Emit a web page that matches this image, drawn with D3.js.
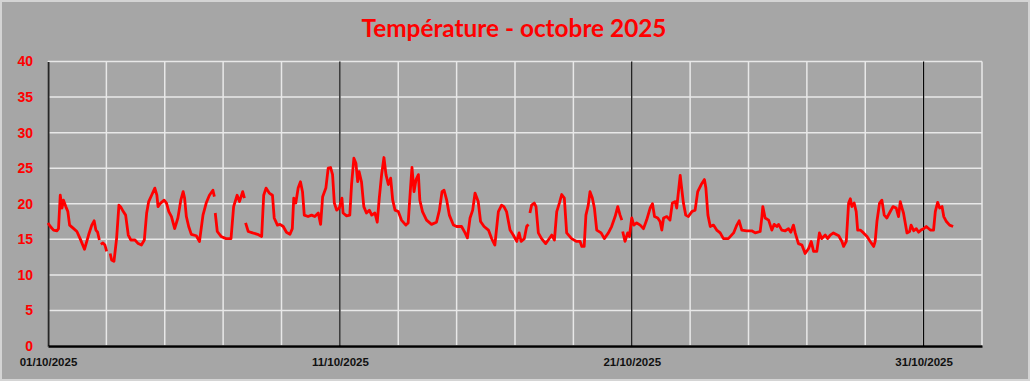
<!DOCTYPE html>
<html>
<head>
<meta charset="utf-8">
<script src="https://cdn.jsdelivr.net/npm/d3@7"></script>
<style>
  body { margin: 0; background: #a6a6a6; }
  svg { display: block; }
</style>
</head>
<body>
<script>
var width = 1030,
    height = 381;

// jours depuis le 01/10/2025 00:00 (null = trou dans les mesures)
var jours = [
  0.00, 0.08, 0.19, 0.31, 0.36, 0.42, 0.48, 0.53, 0.61, 0.68, 0.74, 0.88, 0.99, 1.10, 1.25, 1.39,
  1.50, 1.58, 1.64, 1.70, 1.76, 1.78, 1.81, 1.88, 1.95, 2.01, 2.07, 2.13, 2.18, 2.26, 2.35, 2.43,
  2.50, 2.58, 2.66, 2.75, 2.84, 2.98, 3.09, 3.20, 3.30, 3.38, 3.45, 3.55, 3.66, 3.73, 3.77, 3.86,
  3.98, 4.06, 4.14, 4.23, 4.34, 4.45, 4.55, 4.63, 4.68, 4.74, 4.82, 4.91, 5.08, 5.19, 5.31, 5.42,
  5.53, 5.65, 5.70, 5.71, 5.73, 5.80, 5.93, 6.10, 6.27, 6.36, 6.48, 6.56, 6.67, 6.73, 6.75, 6.77,
  6.86, 7.01, 7.18, 7.32, 7.39, 7.47, 7.58, 7.69, 7.75, 7.86, 7.95,
  8.06, 8.17, 8.29, 8.37, 8.42, 8.49, 8.57, 8.65, 8.72, 8.78, 8.91, 9.03, 9.14, 9.26, 9.34, 9.41,
  9.52, 9.60, 9.68, 9.75, 9.81, 9.89, 9.98, 10.07, 10.11, 10.23, 10.34, 10.40, 10.48, 10.55, 10.61, 10.66,
  10.74, 10.82, 10.91, 11.01, 11.09, 11.20, 11.28, 11.35, 11.43, 11.51, 11.58, 11.66, 11.74, 11.81, 11.89, 12.00,
  12.11, 12.26, 12.34, 12.42, 12.47, 12.54, 12.61, 12.69, 12.74, 12.83, 12.97, 13.14, 13.31, 13.41, 13.50, 13.57,
  13.66, 13.75, 13.89, 14.00, 14.17, 14.29, 14.37, 14.46, 14.55, 14.63, 14.74, 14.82, 14.94, 15.09, 15.20, 15.31,
  15.43, 15.54, 15.62, 15.71, 15.83, 15.94, 16.06,
  16.14, 16.21, 16.32, 16.40, 16.46, 16.48, 16.51, 16.57, 16.66, 16.72, 16.80, 16.91, 17.05, 17.14, 17.26, 17.35,
  17.43, 17.52, 17.60, 17.69, 17.77, 17.94, 18.11, 18.23, 18.29, 18.37, 18.43, 18.51, 18.57, 18.65, 18.72, 18.80,
  18.95, 19.06, 19.20, 19.31, 19.43, 19.52, 19.60, 19.66, 19.67, 19.69, 19.77, 19.86, 19.92, 20.00, 20.07, 20.17,
  20.29, 20.40, 20.51, 20.63, 20.71, 20.78, 20.89, 20.97, 21.03, 21.09, 21.20, 21.31, 21.39, 21.49, 21.54, 21.60,
  21.66, 21.71, 21.77, 21.85, 21.94, 22.06, 22.17, 22.26, 22.38, 22.49, 22.54, 22.61, 22.69, 22.80, 22.91, 23.03,
  23.14, 23.31, 23.49, 23.60, 23.68, 23.77, 23.94, 24.11, 24.23,
  24.40, 24.46, 24.49, 24.57, 24.69, 24.80, 24.88, 24.97, 25.03, 25.14, 25.26, 25.37, 25.45, 25.54, 25.60, 25.71,
  25.83, 25.94, 26.06, 26.15, 26.23, 26.34, 26.43, 26.51, 26.63, 26.71, 26.80, 26.91, 27.09, 27.20, 27.26, 27.35,
  27.43, 27.49, 27.54, 27.62, 27.69, 27.74, 27.83, 27.94, 28.06, 28.17, 28.29, 28.34, 28.40, 28.49, 28.57, 28.65,
  28.74, 28.83, 28.95, 29.06, 29.14, 29.20, 29.26, 29.31, 29.37, 29.43, 29.52, 29.57, 29.66, 29.75, 29.83, 29.91,
  30.00, 30.09, 30.23, 30.34, 30.40, 30.48, 30.55, 30.63, 30.69, 30.78, 30.89, 31.01
];

var temperatures = [
  17.3, 16.8, 16.3, 16.2, 16.5, 21.2, 19.4, 20.5, 19.6, 18.9, 17.0, 16.5, 16.1, 15.1, 13.6, 15.6,
  17.0, 17.6, 16.3, 16.0, 14.9, null, 14.3, 14.5, 14.2, 13.3, null, 13.0, 12.1, 11.9, 15.1, 19.8,
  19.5, 18.9, 18.4, 15.6, 14.9, 14.9, 14.4, 14.2, 14.9, 18.7, 20.3, 21.2, 22.2, 21.2, 19.6, 20.1,
  20.5, 20.1, 18.9, 18.2, 16.5, 18.0, 20.5, 21.7, 20.8, 18.2, 16.8, 15.7, 15.5, 14.7, 18.4, 20.1,
  21.2, 21.9, 21.0, null, 18.7, 16.1, 15.4, 15.1, 15.1, 19.6, 21.2, 20.3, 21.7, 20.8, null, 17.3,
  16.1, 15.9, 15.7, 15.4, 21.2, 22.2, 21.5, 21.2, 18.0, 17.0, 17.1,
  16.8, 16.0, 15.7, 16.5, 20.8, 20.1, 22.2, 23.1, 21.7, 18.4, 18.2, 18.4, 18.2, 18.7, 17.1, 21.0,
  22.2, 25.0, 25.1, 24.1, 20.1, 19.1, 19.4, 20.8, 18.7, 18.3, 18.4, 22.7, 26.4, 25.7, 23.1, 24.5,
  23.1, 19.6, 18.7, 19.1, 18.4, 18.7, 17.4, 20.8, 24.1, 26.5, 24.1, 22.7, 23.6, 20.5, 19.1, 18.9,
  17.7, 17.0, 17.3, 22.2, 25.1, 21.7, 23.4, 24.1, 20.5, 18.9, 17.7, 17.1, 17.4, 19.1, 21.7, 21.9,
  20.5, 18.4, 17.0, 16.8, 16.8, 15.9, 15.2, 18.0, 19.1, 21.5, 20.3, 17.5, 16.8, 16.3, 15.1, 14.2,
  18.9, 19.8, 19.6, 18.9, 16.3, 15.6, 14.7,
  15.9, 14.7, 15.1, 16.8, 17.1, null, 18.7, 19.8, 20.1, 19.6, 15.9, 15.1, 14.4, 14.9, 15.6, 14.9,
  18.9, 20.1, 21.3, 20.8, 15.9, 15.1, 14.7, 14.7, 14.0, 14.0, 18.4, 19.8, 21.7, 20.8, 19.4, 16.3,
  15.9, 15.1, 15.9, 16.8, 18.2, 19.6, 18.4, 17.7, null, 16.1, 14.7, 15.9, 15.4, 18.0, 17.0, 17.3,
  17.0, 16.5, 17.7, 19.4, 20.0, 18.2, 18.0, 17.5, 16.3, 18.0, 18.2, 17.7, 20.1, 20.3, 19.4, 21.7,
  24.0, 22.2, 20.1, 18.4, 18.2, 18.9, 19.1, 21.7, 22.7, 23.4, 22.2, 18.4, 16.8, 17.0, 16.3, 15.9,
  15.1, 15.1, 15.9, 17.0, 17.6, 16.3, 16.2, 16.2, 15.9,
  16.1, 18.2, 19.6, 18.0, 17.7, 16.3, 17.1, 16.8, 17.1, 16.3, 16.2, 16.5, 16.0, 17.0, 15.9, 14.4,
  14.2, 13.0, 13.7, 14.7, 13.3, 13.3, 15.9, 15.1, 15.6, 15.1, 15.6, 15.9, 15.5, 14.7, 14.0, 14.7,
  20.1, 20.7, 19.6, 20.1, 18.9, 16.3, 16.3, 15.9, 15.4, 14.7, 14.0, 14.7, 17.5, 20.1, 20.5, 18.4,
  18.0, 18.7, 19.6, 19.4, 18.2, 20.3, 19.4, 18.7, 17.3, 15.9, 16.1, 17.0, 16.2, 16.5, 16.0, 16.3,
  16.5, 16.8, 16.3, 16.3, 18.9, 20.2, 19.4, 19.6, 18.2, 17.5, 17.0, 16.8
];

var yTicks = [0, 5, 10, 15, 20, 25, 30, 35, 40];
var titre = "Température - octobre 2025";

var debut = new Date(Date.UTC(2025, 9, 1)),
    fin = new Date(Date.UTC(2025, 10, 2));

var data = jours.map(function(j, i) {
    return { date: new Date(debut.getTime() + j * 864e5), temp: temperatures[i] };
});

var x = d3.scaleUtc()
    .domain([debut, fin])
    .range([48, 982]);

var y = d3.scaleLinear()
    .domain([0, 40])
    .range([346, 61.5]);

var svg = d3.select("body")
  .append("svg")
    .attr("width", width)
    .attr("height", height);

svg.append("rect")
    .attr("x", 1).attr("y", 1)
    .attr("width", width - 2).attr("height", height - 2)
    .attr("fill", "#a6a6a6")
    .attr("stroke", "#d4d4d4")
    .attr("stroke-width", 2);

svg.append("text")
    .attr("x", 514)
    .attr("y", 37)
    .attr("text-anchor", "middle")
    .attr("textLength", 305)
    .attr("lengthAdjust", "spacingAndGlyphs")
    .style("font-family", "Lato, 'Open Sans', sans-serif")
    .style("font-weight", "bold")
    .style("font-size", "24px")
    .attr("fill", "#ff0000")
    .text(titre);

// grille horizontale
svg.append("g")
    .selectAll("line")
    .data(yTicks).enter()
    .append("line")
    .attr("x1", x.range()[0])
    .attr("x2", x.range()[1])
    .attr("y1", function(d) { return y(d); })
    .attr("y2", function(d) { return y(d); })
    .attr("stroke", "#e8e8e8")
    .attr("stroke-width", 1.5);

// grille verticale tous les 2 jours
var grille = d3.utcDay.range(debut, d3.utcDay.offset(fin, 1), 2);
svg.append("g")
    .selectAll("line")
    .data(grille).enter()
    .append("line")
    .attr("x1", function(d) { return x(d); })
    .attr("x2", function(d) { return x(d); })
    .attr("y1", y(40))
    .attr("y2", y(0))
    .attr("stroke", "#e8e8e8")
    .attr("stroke-width", 1.5);

// traits noirs tous les 10 jours
var majeurs = d3.utcDay.range(debut, fin, 10);
svg.append("g")
    .selectAll("line")
    .data(majeurs.slice(1)).enter()
    .append("line")
    .attr("x1", function(d) { return x(d); })
    .attr("x2", function(d) { return x(d); })
    .attr("y1", y(40))
    .attr("y2", y(0))
    .attr("stroke", "#000")
    .attr("stroke-width", 1.2);

// axes
var yAxis = svg.append("g")
    .attr("transform", "translate(48,0)")
    .call(d3.axisLeft(y).tickValues(yTicks).tickSize(0).tickPadding(15));
yAxis.select(".domain").attr("stroke", "#262626").attr("stroke-width", 2);
yAxis.selectAll("text")
    .attr("fill", "#ff0000")
    .style("font-family", "'Liberation Sans', Arial, sans-serif")
    .style("font-weight", "bold")
    .style("font-size", "14px");

var xAxis = svg.append("g")
    .attr("transform", "translate(0,346)")
    .call(d3.axisBottom(x).tickValues(majeurs).tickSize(0).tickPadding(12)
        .tickFormat(d3.utcFormat("%d/%m/%Y")));
xAxis.select(".domain").attr("stroke", "#000").attr("stroke-width", 2.5);
xAxis.selectAll("text")
    .attr("fill", "#111")
    .style("font-family", "'Liberation Sans', Arial, sans-serif")
    .style("font-weight", "bold")
    .style("font-size", "11.5px");

// courbe
var line = d3.line()
    .defined(function(d) { return d.temp !== null; })
    .x(function(d) { return x(d.date); })
    .y(function(d) { return y(d.temp); });

svg.append("path")
    .datum(data)
    .attr("fill", "none")
    .attr("stroke", "#ff0000")
    .attr("stroke-width", 2.8)
    .attr("stroke-linejoin", "round")
    .attr("d", line);
</script>
</body>
</html>
